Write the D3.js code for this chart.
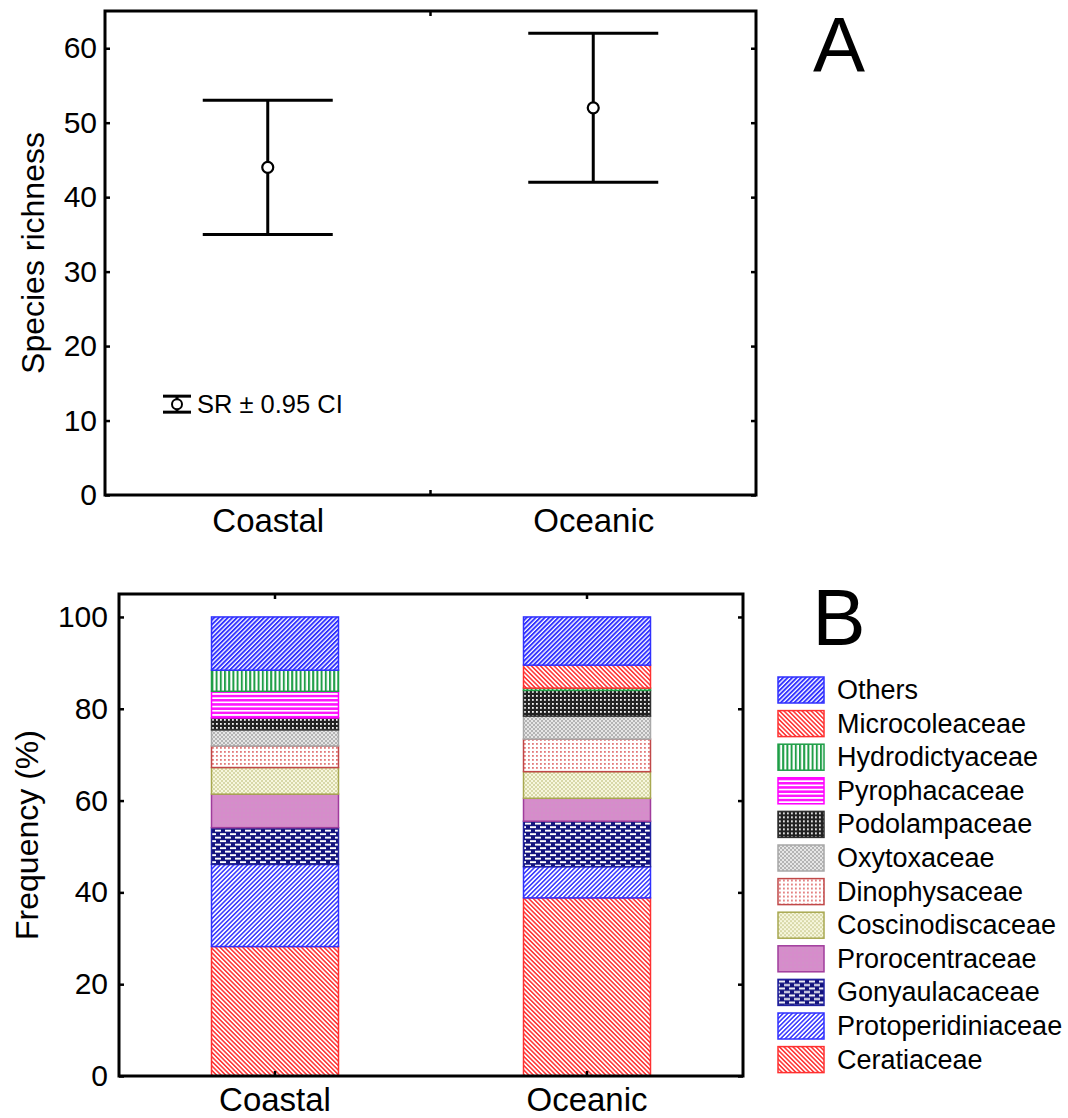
<!DOCTYPE html>
<html>
<head>
<meta charset="utf-8">
<script src="https://cdn.jsdelivr.net/npm/d3@7"></script>
<style>
  body { margin: 0; background: #fff; }
  text { font-family: "Liberation Sans", Arial, sans-serif; }
</style>
</head>
<body>
<div id="chart"></div>
<script>
// ---- data ----
const categories = ["Coastal", "Oceanic"];

// panel A: species richness with 0.95 CI
const srMean = [44, 52];
const srLow = [35, 42];
const srHigh = [53, 62];

// panel B: family frequencies (%), bottom to top of the stack
const families = ["Ceratiaceae", "Protoperidiniaceae", "Gonyaulacaceae", "Prorocentraceae",
  "Coscinodiscaceae", "Dinophysaceae", "Oxytoxaceae", "Podolampaceae",
  "Pyrophacaceae", "Hydrodictyaceae", "Microcoleaceae", "Others"];
const coastalFreq = [28.2, 17.9, 8.0, 7.3, 5.8, 4.7, 3.5, 2.6, 5.8, 4.6, 0, 11.6];
const oceanicFreq = [38.8, 6.8, 9.9, 5.0, 5.8, 7.1, 5.0, 5.6, 0, 0.5, 5.0, 10.5];

const yTicksA = [0, 10, 20, 30, 40, 50, 60];
const yTicksB = [0, 20, 40, 60, 80, 100];

// ---- page ----
const W = 1068, H = 1118;
const svg = d3.select("#chart").append("svg")
  .attr("width", W)
  .attr("height", H);

const defs = svg.append("defs");

// helper to build a fill pattern
function makePattern(id, w, h, bg, rects, transform) {
  const p = defs.append("pattern")
    .attr("id", id)
    .attr("patternUnits", "userSpaceOnUse")
    .attr("width", w)
    .attr("height", h);
  if (transform) p.attr("patternTransform", transform);
  p.append("rect").attr("width", w).attr("height", h).attr("fill", bg);
  rects.forEach(r => p.append("rect")
    .attr("x", r[0]).attr("y", r[1]).attr("width", r[2]).attr("height", r[3])
    .attr("fill", r[4]));
}

makePattern("redHatch", 3.2, 4, "#fff", [[0, 0, 1.6, 4, "#ff3c3c"]], "rotate(-45)");
makePattern("blueHatch", 3.2, 4, "#fff", [[0, 0, 1.6, 4, "#4040ff"]], "rotate(45)");
makePattern("blueHatch2", 3.2, 4, "#fff", [[0, 0, 1.9, 4, "#3030ff"]], "rotate(45)");
makePattern("greenVert", 4.2, 4, "#fff", [[0, 0, 2, 4, "#1f9e47"]]);
makePattern("pinkHoriz", 4, 4.2, "#fff", [[0, 0, 4, 2.5, "#ff14ff"]]);
makePattern("blackGrid", 4, 4, "#222", [[1, 1, 1.8, 1.8, "#f4f4f4"]]);
makePattern("grayCheck", 4, 4, "#e6e6e6", [[0, 0, 2, 2, "#b4b4b4"], [2, 2, 2, 2, "#b4b4b4"]]);
makePattern("redDots", 4, 4, "#fff", [[1, 1, 1.8, 1.8, "#e27a7a"]]);
makePattern("oliveCheck", 4, 4, "#f7f7de", [[0, 0, 2, 2, "#d8d8a8"], [2, 2, 2, 2, "#d8d8a8"]]);
makePattern("orchid", 4, 4, "#d68ccb", [[0, 0, 2, 2, "#d291c8"]]);
makePattern("brick", 10, 7, "#14147e",
  [[1, 1.2, 6, 1.9, "#fff"], [6, 4.7, 6, 1.9, "#fff"], [-4, 4.7, 6, 1.9, "#fff"]]);

const familyStyle = {
  Ceratiaceae: {fill: "url(#redHatch)", stroke: "#ff3030"},
  Protoperidiniaceae: {fill: "url(#blueHatch)", stroke: "#3030ff"},
  Gonyaulacaceae: {fill: "url(#brick)", stroke: "#2020a0"},
  Prorocentraceae: {fill: "url(#orchid)", stroke: "#a03c9c"},
  Coscinodiscaceae: {fill: "url(#oliveCheck)", stroke: "#a8a850"},
  Dinophysaceae: {fill: "url(#redDots)", stroke: "#c04848"},
  Oxytoxaceae: {fill: "url(#grayCheck)", stroke: "#a8a8a8"},
  Podolampaceae: {fill: "url(#blackGrid)", stroke: "#303030"},
  Pyrophacaceae: {fill: "url(#pinkHoriz)", stroke: "#ff00ff"},
  Hydrodictyaceae: {fill: "url(#greenVert)", stroke: "#1f9e47"},
  Microcoleaceae: {fill: "url(#redHatch)", stroke: "#ff3030"},
  Others: {fill: "url(#blueHatch2)", stroke: "#3030ff"}
};

const tickFont = "30px";
const labelFont = "33px";
const titleFont = "32px";

// ================= panel A =================
const mA = {top: 11, left: 105};
const wA = 651, hA = 484;
const gA = svg.append("g").attr("transform", `translate(${mA.left}, ${mA.top})`);

const xA = d3.scalePoint().domain(categories).range([0, wA]).padding(0.5);
const yA = d3.scaleLinear().domain([0, 65]).range([hA, 0]);

// y axis, ticks pointing inward
gA.append("g")
  .call(d3.axisLeft(yA).tickValues(yTicksA).tickSize(-5).tickPadding(8))
  .call(g => g.select(".domain").remove())
  .call(g => g.selectAll("line").attr("stroke-width", 2.5))
  .call(g => g.selectAll("text").attr("font-size", tickFont).attr("fill", "#000"));
gA.append("g")
  .attr("transform", `translate(${wA}, 0)`)
  .call(d3.axisRight(yA).tickValues(yTicksA).tickSize(-5).tickFormat(""))
  .call(g => g.select(".domain").remove())
  .call(g => g.selectAll("line").attr("stroke-width", 2.5));

// x axis labels
gA.append("g")
  .attr("transform", `translate(0, ${hA})`)
  .call(d3.axisBottom(xA).tickSize(0).tickPadding(14))
  .call(g => g.select(".domain").remove())
  .call(g => g.selectAll("text").attr("font-size", labelFont).attr("fill", "#000"));

// boundary ticks between categories (top and bottom)
const midA = (xA(categories[0]) + xA(categories[1])) / 2;
[[hA, hA - 5], [0, 5]].forEach(([y1, y2]) => {
  gA.append("line")
    .attr("x1", midA).attr("x2", midA)
    .attr("y1", y1).attr("y2", y2)
    .attr("stroke", "#000").attr("stroke-width", 2.5);
});

// frame
gA.append("rect")
  .attr("width", wA).attr("height", hA)
  .attr("fill", "none").attr("stroke", "#000").attr("stroke-width", 3);

// error bars
const srData = categories.map((c, i) => ({cat: c, mean: srMean[i], lo: srLow[i], hi: srHigh[i]}));
const capHalf = 65;
const bars = gA.selectAll(".ci")
  .data(srData)
  .join("g")
  .attr("class", "ci")
  .attr("transform", d => `translate(${xA(d.cat)}, 0)`);
bars.append("line")
  .attr("y1", d => yA(d.lo)).attr("y2", d => yA(d.hi))
  .attr("stroke", "#000").attr("stroke-width", 3);
bars.selectAll(".cap")
  .data(d => [d.lo, d.hi])
  .join("line")
  .attr("class", "cap")
  .attr("x1", -capHalf).attr("x2", capHalf)
  .attr("y1", d => yA(d)).attr("y2", d => yA(d))
  .attr("stroke", "#000").attr("stroke-width", 3);
bars.append("circle")
  .attr("cy", d => yA(d.mean))
  .attr("r", 5.5)
  .attr("fill", "#fff").attr("stroke", "#000").attr("stroke-width", 2.2);

// key for panel A
const key = gA.append("g").attr("transform", `translate(72, ${yA(12.2)})`);
key.append("line").attr("y1", -8).attr("y2", 8).attr("stroke", "#000").attr("stroke-width", 3);
[-8, 8].forEach(y => key.append("line")
  .attr("x1", -14).attr("x2", 14).attr("y1", y).attr("y2", y)
  .attr("stroke", "#000").attr("stroke-width", 3));
key.append("circle").attr("r", 5).attr("fill", "#fff").attr("stroke", "#000").attr("stroke-width", 2);
key.append("text")
  .attr("x", 20).attr("y", 0)
  .attr("dominant-baseline", "central")
  .attr("font-size", "25.5px")
  .text("SR \u00b1 0.95 CI");

// y label
svg.append("text")
  .attr("transform", `translate(44, ${mA.top + hA / 2}) rotate(-90)`)
  .attr("text-anchor", "middle")
  .attr("font-size", titleFont)
  .text("Species richness");

svg.append("text")
  .attr("x", 839).attr("y", 72)
  .attr("text-anchor", "middle")
  .attr("font-size", "78px")
  .text("A");

// ================= panel B =================
const mB = {top: 594, left: 119};
const wB = 624, hB = 482;
const gB = svg.append("g").attr("transform", `translate(${mB.left}, ${mB.top})`);

const xB = d3.scaleBand().domain(categories).range([0, wB]).paddingInner(0.593).paddingOuter(0.2965);
const yB = d3.scaleLinear().domain([0, 105]).range([hB, 0]);

const table = categories.map((c, i) => {
  const row = {cat: c};
  const vals = i === 0 ? coastalFreq : oceanicFreq;
  families.forEach((f, j) => row[f] = vals[j]);
  return row;
});
const series = d3.stack().keys(families)(table);

gB.selectAll(".layer")
  .data(series)
  .join("g")
  .attr("class", "layer")
  .each(function(s) {
    d3.select(this).selectAll("rect")
      .data(s.filter(d => d[1] - d[0] > 0))
      .join("rect")
      .attr("x", d => xB(d.data.cat))
      .attr("width", xB.bandwidth())
      .attr("y", d => yB(d[1]))
      .attr("height", d => yB(d[0]) - yB(d[1]))
      .attr("fill", familyStyle[s.key].fill)
      .attr("stroke", familyStyle[s.key].stroke)
      .attr("stroke-width", 1.5);
  });

gB.append("g")
  .call(d3.axisLeft(yB).tickValues(yTicksB).tickSize(-5).tickPadding(11))
  .call(g => g.select(".domain").remove())
  .call(g => g.selectAll("line").attr("stroke-width", 2.5))
  .call(g => g.selectAll("text").attr("font-size", tickFont).attr("fill", "#000"));
gB.append("g")
  .attr("transform", `translate(${wB}, 0)`)
  .call(d3.axisRight(yB).tickValues(yTicksB).tickSize(-5).tickFormat(""))
  .call(g => g.select(".domain").remove())
  .call(g => g.selectAll("line").attr("stroke-width", 2.5));
gB.append("g")
  .attr("transform", `translate(0, ${hB})`)
  .call(d3.axisBottom(xB).tickSize(-5).tickPadding(12))
  .call(g => g.select(".domain").remove())
  .call(g => g.selectAll("line").attr("stroke-width", 2.5))
  .call(g => g.selectAll("text").attr("font-size", labelFont).attr("fill", "#000"));
gB.append("g")
  .call(d3.axisTop(xB).tickSize(-5).tickFormat(""))
  .call(g => g.select(".domain").remove())
  .call(g => g.selectAll("line").attr("stroke-width", 2.5));

gB.append("rect")
  .attr("width", wB).attr("height", hB)
  .attr("fill", "none").attr("stroke", "#000").attr("stroke-width", 3);

svg.append("text")
  .attr("transform", `translate(38, ${mB.top + hB / 2}) rotate(-90)`)
  .attr("text-anchor", "middle")
  .attr("font-size", titleFont)
  .text("Frequency (%)");

svg.append("text")
  .attr("x", 839).attr("y", 645)
  .attr("text-anchor", "middle")
  .attr("font-size", "80px")
  .text("B");

// legend, Others on top
const legend = svg.append("g").attr("transform", "translate(778, 677)");
const legendItems = legend.selectAll("g")
  .data(families.slice().reverse())
  .join("g")
  .attr("transform", (d, i) => `translate(0, ${i * 33.6})`);
legendItems.append("rect")
  .attr("width", 46).attr("height", 26)
  .attr("fill", d => familyStyle[d].fill)
  .attr("stroke", d => familyStyle[d].stroke)
  .attr("stroke-width", 1.5);
legendItems.append("text")
  .attr("x", 59).attr("y", 13)
  .attr("dominant-baseline", "central")
  .attr("font-size", "27px")
  .text(d => d);
</script>
</body>
</html>
